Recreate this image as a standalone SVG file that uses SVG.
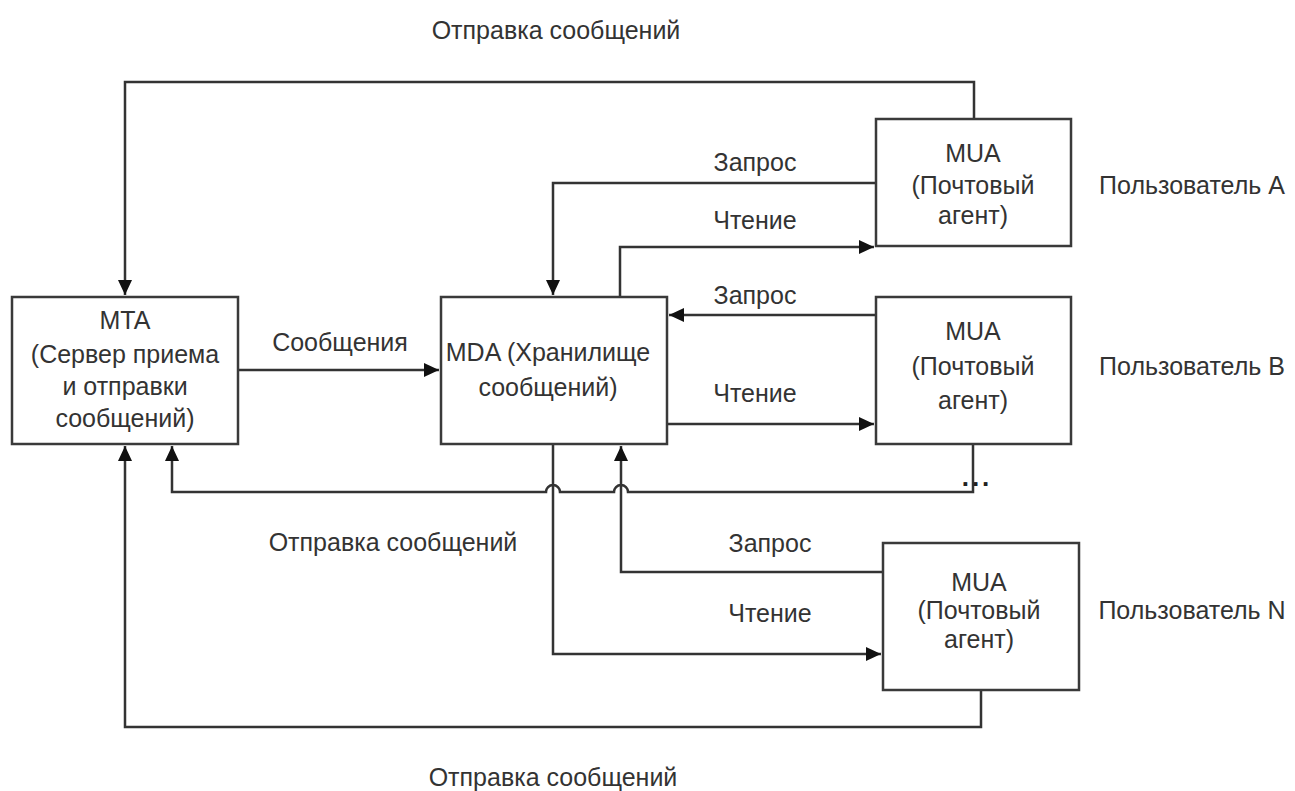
<svg xmlns="http://www.w3.org/2000/svg" width="1295" height="791" viewBox="0 0 1295 791">
<style>
.box{fill:#fff;stroke:#3a3a3a;stroke-width:2.5}
.ln{fill:none;stroke:#333;stroke-width:2.5}
text{font-family:"Liberation Sans",Arial,sans-serif;font-size:25px;fill:#333;text-anchor:middle;dominant-baseline:central}
.dots{font-weight:bold;font-size:26px;letter-spacing:3px;fill:#222}
</style>
<defs>
<marker id="arr" markerUnits="userSpaceOnUse" markerWidth="16" markerHeight="14" refX="15" refY="7" orient="auto">
<path d="M0,0 L15,7 L0,14 Z" fill="#111"/>
</marker>
</defs>
<rect width="1295" height="791" fill="#fff"/>
<g id="connectors">
<path class="ln" d="M974,119 V82 H125 V295" marker-end="url(#arr)"/>
<path class="ln" d="M876,183 H553 V295" marker-end="url(#arr)"/>
<path class="ln" d="M620,297 V247 H874" marker-end="url(#arr)"/>
<path class="ln" d="M238,370 H439" marker-end="url(#arr)"/>
<path class="ln" d="M876,315 H669" marker-end="url(#arr)"/>
<path class="ln" d="M667,424 H874" marker-end="url(#arr)"/>
<path class="ln" d="M973,444 V492 H628 A7,7 0 0 0 614,492 H560 A7,7 0 0 0 546,492 H172 V446" marker-end="url(#arr)"/>
<path class="ln" d="M883,572 H621 V446" marker-end="url(#arr)"/>
<path class="ln" d="M553,444 V654 H881" marker-end="url(#arr)"/>
<path class="ln" d="M981,690 V727 H125 V446" marker-end="url(#arr)"/>
</g>
<g id="mta">
<rect class="box" x="12" y="297" width="226" height="147"/>
<text x="125" y="320">MTA</text>
<text x="125" y="354">(Сервер приема</text>
<text x="125" y="386">и отправки</text>
<text x="125" y="418">сообщений)</text>
</g>
<g id="mda">
<rect class="box" x="441" y="297" width="226" height="147"/>
<text x="548" y="352">MDA (Хранилище</text>
<text x="548" y="387">сообщений)</text>
</g>
<g id="mua-a">
<rect class="box" x="876" y="119" width="195" height="127"/>
<text x="973" y="153">MUA</text>
<text x="973" y="185">(Почтовый</text>
<text x="973" y="215">агент)</text>
</g>
<g id="mua-b">
<rect class="box" x="876" y="297" width="195" height="147"/>
<text x="973" y="331">MUA</text>
<text x="973" y="366">(Почтовый</text>
<text x="973" y="400">агент)</text>
</g>
<g id="mua-n">
<rect class="box" x="883" y="543" width="196" height="147"/>
<text x="979" y="582">MUA</text>
<text x="979" y="610">(Почтовый</text>
<text x="979" y="639">агент)</text>
</g>
<g id="labels">
<text x="556" y="30">Отправка сообщений</text>
<text x="553" y="777">Отправка сообщений</text>
<text x="393" y="542">Отправка сообщений</text>
<text x="340" y="342">Сообщения</text>
<text x="755" y="162">Запрос</text>
<text x="755" y="220">Чтение</text>
<text x="755" y="295">Запрос</text>
<text x="755" y="393">Чтение</text>
<text x="770" y="543">Запрос</text>
<text x="770" y="613">Чтение</text>
<text x="1192" y="185">Пользователь A</text>
<text x="1192" y="366">Пользователь B</text>
<text x="1192" y="610">Пользователь N</text>
<text class="dots" x="977" y="477">...</text>
</g>
</svg>
